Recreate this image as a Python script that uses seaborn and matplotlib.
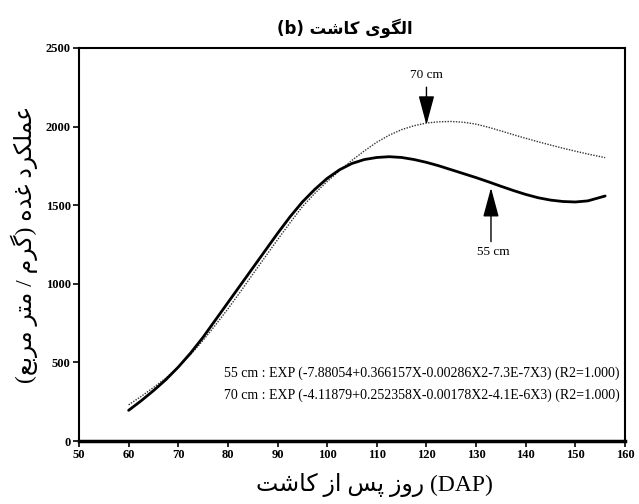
import matplotlib
matplotlib.use("Agg")
import matplotlib.pyplot as plt
import seaborn as sns

# --- data ---
days = [60, 62.5, 65, 67.5, 70, 72.5, 75, 77.5, 80, 82.5, 85, 87.5, 90,
        92.5, 95, 97.5, 100, 102.5, 105, 107.5, 110, 112.5, 115, 117.5,
        120, 122.5, 125, 127.5, 130, 132.5, 135, 137.5, 140, 142.5, 145,
        147.5, 150, 152.5, 156]
yield_55 = [195, 255, 320, 390, 470, 560, 660, 770, 880, 990, 1100, 1210,
            1320, 1425, 1520, 1600, 1670, 1725, 1765, 1790, 1803, 1808,
            1803, 1790, 1772, 1750, 1725, 1700, 1675, 1648, 1620, 1593,
            1568, 1547, 1532, 1523, 1520, 1527, 1558]
yield_70 = [230, 283, 340, 400, 470, 550, 640, 738, 840, 948, 1060, 1170,
            1280, 1387, 1490, 1575, 1650, 1720, 1785, 1845, 1900, 1945,
            1980, 2005, 2022, 2030, 2032, 2027, 2015, 1995, 1972, 1948,
            1925, 1903, 1882, 1862, 1843, 1825, 1802]
x_ticks = [50, 60, 70, 80, 90, 100, 110, 120, 130, 140, 150, 160]
y_ticks = [0, 500, 1000, 1500, 2000, 2500]
eq_55 = "55 cm : EXP (-7.88054+0.366157X-0.00286X2-7.3E-7X3) (R2=1.000)"
eq_70 = "70 cm : EXP (-4.11879+0.252358X-0.00178X2-4.1E-6X3) (R2=1.000)"

# Arabic/Persian letters -> (isolated, final, initial, medial)
FORMS = {
    'ا': ('\uFE8D', '\uFE8E', None, None),
    'ب': ('\uFE8F', '\uFE90', '\uFE91', '\uFE92'),
    'ت': ('\uFE95', '\uFE96', '\uFE97', '\uFE98'),
    'د': ('\uFEA9', '\uFEAA', None, None),
    'ر': ('\uFEAD', '\uFEAE', None, None),
    'ز': ('\uFEAF', '\uFEB0', None, None),
    'س': ('\uFEB1', '\uFEB2', '\uFEB3', '\uFEB4'),
    'ش': ('\uFEB5', '\uFEB6', '\uFEB7', '\uFEB8'),
    'ع': ('\uFEC9', '\uFECA', '\uFECB', '\uFECC'),
    'غ': ('\uFECD', '\uFECE', '\uFECF', '\uFED0'),
    'ل': ('\uFEDD', '\uFEDE', '\uFEDF', '\uFEE0'),
    'م': ('\uFEE1', '\uFEE2', '\uFEE3', '\uFEE4'),
    'ه': ('\uFEE9', '\uFEEA', '\uFEEB', '\uFEEC'),
    'و': ('\uFEED', '\uFEEE', None, None),
    'پ': ('\uFB56', '\uFB57', '\uFB58', '\uFB59'),
    'ک': ('\uFB8E', '\uFB8F', '\uFB90', '\uFB91'),
    'گ': ('\uFB92', '\uFB93', '\uFB94', '\uFB95'),
    'ی': ('\uFBFC', '\uFBFD', '\uFBFE', '\uFBFF'),
}


def fa(s):
    """Shape Persian text and return it in visual (left-to-right) order."""
    out = []
    for i, ch in enumerate(s):
        if ch not in FORMS:
            out.append(ch)
            continue
        prev = s[i - 1] if i > 0 else ''
        nxt = s[i + 1] if i + 1 < len(s) else ''
        iso, fin, ini, med = FORMS[ch]
        pj = prev in FORMS and FORMS[prev][2] is not None
        nj = ini is not None and nxt in FORMS
        if pj and nj:
            out.append(med)
        elif pj:
            out.append(fin)
        elif nj:
            out.append(ini)
        else:
            out.append(iso)
    mirror = {'(': ')', ')': '('}
    return ''.join(mirror.get(c, c) for c in reversed(out))


sns.set_theme(style="ticks")
plt.rcParams['font.family'] = ['Liberation Serif', 'DejaVu Sans']
plt.rcParams['text.color'] = 'black'
plt.rcParams['axes.labelcolor'] = 'black'
plt.rcParams['xtick.color'] = 'black'
plt.rcParams['ytick.color'] = 'black'

fig = plt.figure(figsize=(6.39, 5.04), dpi=100)
ax = fig.add_axes([0.1236, 0.125, 0.8545, 0.78])

sns.lineplot(x=days, y=yield_70, ax=ax, color='#333333', linewidth=1.0,
             linestyle=(0, (1, 1)))
sns.lineplot(x=days, y=yield_55, ax=ax, color='black', linewidth=2.0)

ax.set_xlim(50, 160)
ax.set_ylim(0, 2500)
ax.set_xticks(x_ticks)
ax.set_yticks(y_ticks)
ax.tick_params(direction='out', length=4, width=1.2, color='black',
               labelsize=9, pad=2)
for lab in ax.get_xticklabels() + ax.get_yticklabels():
    lab.set_fontweight('bold')
for side in ['left', 'right', 'top']:
    ax.spines[side].set_linewidth(1.5)
    ax.spines[side].set_color('black')
ax.spines['bottom'].set_linewidth(2.5)
ax.spines['bottom'].set_color('black')

arrow = dict(arrowstyle='-|>,head_length=1.3,head_width=0.35',
             mutation_scale=14, color='black', lw=1.0, shrinkA=0, shrinkB=0)
ax.annotate('', xy=(120, 2010), xytext=(120, 2250), arrowprops=arrow)
ax.text(120, 2330, '70 cm', ha='center', va='center', fontsize=9.5)
ax.annotate('', xy=(133, 1610), xytext=(133, 1268), arrowprops=arrow)
ax.text(133.5, 1205, '55 cm', ha='center', va='center', fontsize=9.5)

ax.text(79.3, 432, eq_55, ha='left', va='center', fontsize=10)
ax.text(79.3, 293, eq_70, ha='left', va='center', fontsize=10)

ax.set_xlabel(fa('روز پس از کاشت') + ' (DAP)', fontsize=17)
ax.xaxis.set_label_coords(0.542, -0.08)
ax.set_ylabel(fa('عملکرد غده (گرم / متر مربع)'), fontsize=17)
ax.yaxis.set_label_coords(-0.075, 0.5)
fig.text(0.54, 0.945, '(b) ' + fa('الگوی کاشت'), ha='center', va='center',
         fontsize=12, fontweight='bold', family=['DejaVu Sans'])

fig.savefig('out.png', dpi=100)
